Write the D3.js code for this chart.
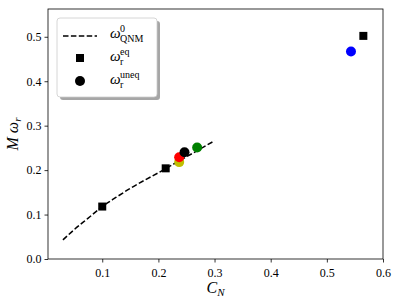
<!DOCTYPE html>
<html>
<head>
<meta charset="utf-8">
<script src="https://cdn.jsdelivr.net/npm/d3@7"></script>
<style>
  body { margin: 0; background: #fff; }
  text { font-family: "Liberation Serif", "DejaVu Serif", serif; }
</style>
</head>
<body>
<div id="chart"></div>
<script>
const width = 398, height = 303;
const margin = { top: 9, right: 15, bottom: 44, left: 48 };

// QNM curve omega^0
const qnmCN = [0.03, 0.05, 0.075, 0.1, 0.125, 0.15, 0.175, 0.2, 0.225, 0.25, 0.275, 0.3];
const qnmW  = [0.043, 0.066, 0.092, 0.118, 0.139, 0.159, 0.177, 0.194, 0.212, 0.230, 0.248, 0.266];

// equal-mass points (squares)
const eqCN = [0.1, 0.213, 0.565];
const eqW  = [0.118, 0.204, 0.502];

// unequal-mass points (circles)
const uneqCN    = [0.237, 0.237, 0.2465, 0.269, 0.543];
const uneqW     = [0.218, 0.229, 0.240, 0.251, 0.467];
const uneqColor = ["#bfbf00", "#ff0000", "#000000", "#008000", "#0000ff"];

const xTicks = [0.1, 0.2, 0.3, 0.4, 0.5, 0.6];
const yTicks = [0.0, 0.1, 0.2, 0.3, 0.4, 0.5];

const svg = d3.select("#chart")
    .append("svg")
    .attr("width", width)
    .attr("height", height);

// Scales
const x = d3.scaleLinear()
    .domain([0.0034, 0.6])
    .range([margin.left, width - margin.right]);

const y = d3.scaleLinear()
    .domain([0, 0.5625])
    .range([height - margin.bottom, margin.top]);

// Axes
svg.append("g")
    .attr("transform", `translate(0,${height - margin.bottom})`)
    .call(d3.axisBottom(x).tickValues(xTicks).tickFormat(d3.format(".1f")).tickSizeOuter(0).tickSize(3.5))
    .call(g => g.selectAll("text").attr("dy", "0.95em"))
    .call(g => g.select(".domain").remove());

svg.append("g")
    .attr("transform", `translate(${margin.left},0)`)
    .call(d3.axisLeft(y).tickValues(yTicks).tickFormat(d3.format(".1f")).tickSizeOuter(0).tickSize(3.5))
    .call(g => g.select(".domain").remove());

svg.selectAll(".tick line").attr("stroke", "#000").attr("stroke-width", 0.8);
svg.selectAll(".tick text")
    .attr("fill", "#000")
    .style("font-family", "'Liberation Serif', serif")
    .style("font-size", "12px");

// Frame
svg.append("rect")
    .attr("x", margin.left)
    .attr("y", margin.top)
    .attr("width", width - margin.left - margin.right)
    .attr("height", height - margin.top - margin.bottom)
    .attr("fill", "none")
    .attr("stroke", "#000")
    .attr("stroke-width", 0.8);

// Dashed curve
const line = d3.line()
    .x((d, i) => x(qnmCN[i]))
    .y(d => y(d))
    .curve(d3.curveMonotoneX);

svg.append("path")
    .datum(qnmW)
    .attr("d", line)
    .attr("fill", "none")
    .attr("stroke", "#000")
    .attr("stroke-width", 1.5)
    .attr("stroke-dasharray", "5.5,2.4");

// Squares
const sq = 8;
svg.selectAll("rect.eq")
    .data(eqCN)
    .join("rect")
    .attr("class", "eq")
    .attr("x", d => x(d) - sq / 2)
    .attr("y", (d, i) => y(eqW[i]) - sq / 2)
    .attr("width", sq)
    .attr("height", sq)
    .attr("fill", "#000");

// Circles
svg.selectAll("circle.uneq")
    .data(uneqCN)
    .join("circle")
    .attr("class", "uneq")
    .attr("cx", d => x(d))
    .attr("cy", (d, i) => y(uneqW[i]))
    .attr("r", 5)
    .attr("fill", (d, i) => uneqColor[i]);

// Axis labels
svg.append("text")
    .attr("x", (margin.left + width - margin.right) / 2)
    .attr("y", 293)
    .attr("text-anchor", "middle")
    .attr("font-size", 16)
    .call(t => {
        t.append("tspan").attr("font-style", "italic").text("C");
        t.append("tspan").attr("font-style", "italic").attr("font-size", 11).attr("dy", 3).text("N");
    });

svg.append("text")
    .attr("transform", `translate(18,${(margin.top + height - margin.bottom) / 2}) rotate(-90)`)
    .attr("text-anchor", "middle")
    .attr("font-size", 16)
    .call(t => {
        t.append("tspan").attr("font-style", "italic").text("M ω");
        t.append("tspan").attr("font-style", "italic").attr("font-size", 11).attr("dy", 3).text("r");
    });

// Legend
const lx = 57, ly = 18, lw = 100, lh = 79;
const legend = svg.append("g");

legend.append("rect")
    .attr("x", lx + 3).attr("y", ly + 3)
    .attr("width", lw).attr("height", lh)
    .attr("rx", 3)
    .attr("fill", "#000").attr("opacity", 0.35);

legend.append("rect")
    .attr("x", lx).attr("y", ly)
    .attr("width", lw).attr("height", lh)
    .attr("rx", 3)
    .attr("fill", "#fff")
    .attr("stroke", "#ccc")
    .attr("stroke-width", 0.8);

legend.append("line")
    .attr("x1", 63).attr("x2", 97)
    .attr("y1", 36).attr("y2", 36)
    .attr("stroke", "#000").attr("stroke-width", 1.5)
    .attr("stroke-dasharray", "5.5,2.4");

legend.append("rect")
    .attr("x", 80 - sq / 2).attr("y", 58 - sq / 2)
    .attr("width", sq).attr("height", sq)
    .attr("fill", "#000");

legend.append("circle")
    .attr("cx", 80).attr("cy", 81).attr("r", 5)
    .attr("fill", "#000");

const labels = [
    { y: 38, sup: "0", sub: "QNM" },
    { y: 61, sup: "eq", sub: "r" },
    { y: 84, sup: "uneq", sub: "r" }
];

labels.forEach(l => {
    const t = legend.append("text")
        .attr("x", 110).attr("y", l.y)
        .attr("font-size", 15);
    t.append("tspan").attr("font-style", "italic").text("ω");
    const xs = 120;
    legend.append("text")
        .attr("x", xs).attr("y", l.y - 6)
        .attr("font-size", 10)
        .text(l.sup);
    legend.append("text")
        .attr("x", xs).attr("y", l.y + 4)
        .attr("font-size", 10)
        .text(l.sub);
});
</script>
</body>
</html>
